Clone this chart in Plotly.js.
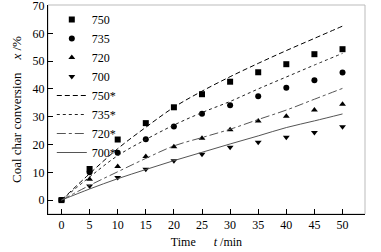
<!DOCTYPE html>
<html><head><meta charset="utf-8">
<script src="https://cdn.plot.ly/plotly-3.0.1.min.js"></script>
<style>html,body{margin:0;padding:0;background:#fff}#chart{width:381px;height:252px}</style>
</head><body><div id="chart"></div>
<script>
const time = [0,5,10,15,20,25,30,35,40,45,50];
const tickVals = [0,5,10,15,20,25,30,35,40,45,50];
const yTicks = [0,10,20,30,40,50,60,70];
const exp750 = [0,11.2,21.8,27.7,33.4,38.1,42.6,46.0,48.9,52.5,54.3];
const exp735 = [0,10.0,17.0,21.9,26.5,31.1,34.1,37.4,40.4,43.1,45.9];
const exp720 = [0,7.5,12.1,15.7,19.2,22.3,25.3,28.5,30.2,32.4,34.5];
const exp700 = [0,5.1,8.1,11.1,14.2,16.5,19.0,20.8,22.6,24.3,26.4];
const mod750 = [0,9.5,18.5,26.2,33.4,39.2,44.4,49.2,53.8,58.2,62.6];
const mod735 = [0,8.3,16.0,21.8,27.0,31.5,35.5,40.0,44.3,48.6,52.8];
const mod720 = [0,5.3,10.2,15.0,19.5,22.5,25.5,29.0,32.4,36.3,40.2];
const mod700 = [0,4.0,7.7,11.0,14.2,17.2,20.2,23.1,26.1,28.5,31.0];
const names = ['750','735','720','700','750*','735*','720*','700*'];

const F = 'Liberation Serif, Times New Roman, serif';
const mk = (y, name, sym) => ({x: time, y: y, name: name, type: 'scatter', mode: 'markers',
  marker: {symbol: sym, size: 6, color: '#000'}});
const ln = (y, name, dash, color) => ({x: time, y: y, name: name, type: 'scatter', mode: 'lines',
  line: {shape: 'spline', dash: dash, width: 1, color: color}});
const data = [
  mk(exp750, names[0], 'square'),
  mk(exp735, names[1], 'circle'),
  mk(exp720, names[2], 'triangle-up'),
  mk(exp700, names[3], 'triangle-down'),
  ln(mod750, names[4], '5px,3px', '#000'),
  ln(mod735, names[5], 'dot', '#222'),
  ln(mod720, names[6], 'dashdot', '#555'),
  ln(mod700, names[7], 'solid', '#555')
];
const layout = {
  width: 381, height: 252,
  margin: {l: 48, r: 16, t: 5, b: 38},
  paper_bgcolor: '#fff', plot_bgcolor: '#fff',
  font: {family: F, size: 11, color: '#000'},
  showlegend: true,
  legend: {x: 0.012, y: 1.0, xanchor: 'left', yanchor: 'top', bgcolor: 'rgba(0,0,0,0)',
    font: {family: F, size: 12}, tracegroupgap: 0, itemwidth: 30},
  xaxis: {range: [-2.4, 54], tickvals: tickVals, ticks: 'inside', ticklen: 5, tickcolor: '#000',
    showgrid: false, zeroline: false, showline: true, linecolor: '#000', linewidth: 1,
    tickfont: {family: F, size: 12}, ticklabeloverflow: 'allow',
    title: {text: 'Time\u00a0\u00a0\u00a0\u00a0\u00a0\u00a0<i>t</i> /min', font: {family: F, size: 12}, standoff: 6}},
  yaxis: {range: [-5, 70.2], tickvals: yTicks, ticks: 'inside', ticklen: 5, tickcolor: '#000',
    showgrid: false, zeroline: false, showline: true, linecolor: '#000', linewidth: 1,
    tickfont: {family: F, size: 12}, ticklabeloverflow: 'allow',
    title: {text: 'Coal char conversion\u00a0\u00a0\u00a0\u00a0<i>x</i> /%', font: {family: F, size: 13}, standoff: 8}},
  shapes: [{type: 'rect', xref: 'paper', yref: 'paper', x0: 0, x1: 1, y0: 0, y1: 1,
    line: {color: '#bbb', width: 1}, layer: 'below'}]
};
Plotly.newPlot('chart', data, layout, {staticPlot: true, displayModeBar: false});
</script></body></html>
